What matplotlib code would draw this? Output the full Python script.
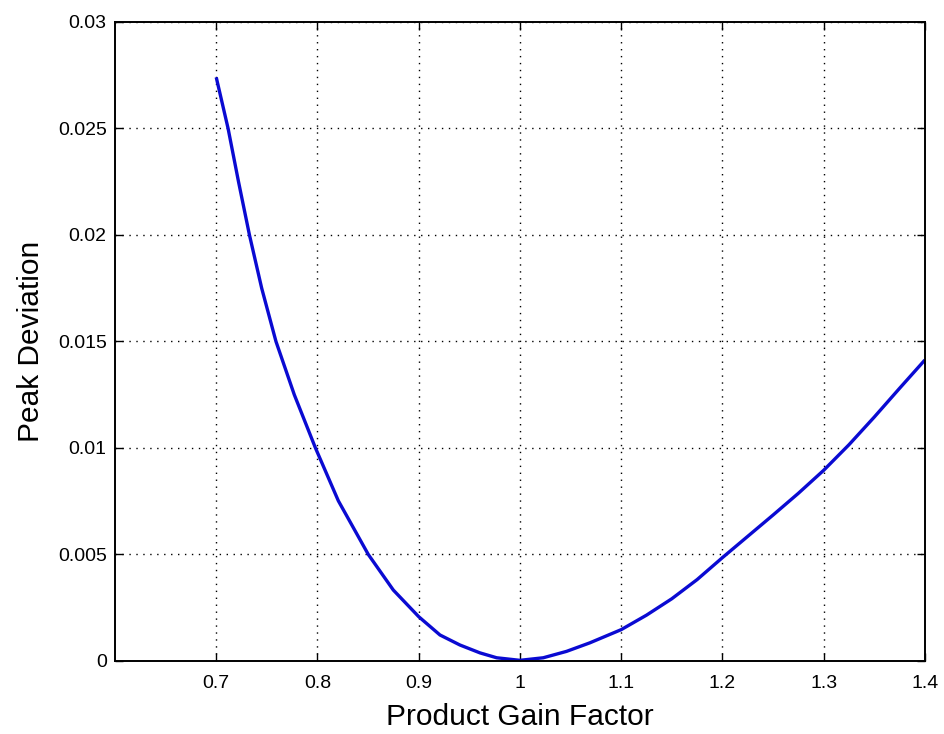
import matplotlib
matplotlib.use("Agg")
import matplotlib.pyplot as plt

# gain factor and the peak deviation read at each gain
gain = [0.700, 0.7117, 0.7220, 0.7328, 0.7449, 0.7590, 0.7771, 0.7980,
        0.8206, 0.8502, 0.8749, 0.9000, 0.9210, 0.9407, 0.9605, 0.9770,
        1.0000, 1.0230, 1.0460, 1.0690, 1.1000, 1.1250, 1.1500, 1.1750,
        1.2000, 1.2250, 1.2500, 1.2750, 1.3000, 1.3250, 1.3500, 1.3750,
        1.4000]
deviation = [0.02740, 0.02500, 0.02250, 0.02000, 0.01750, 0.01500, 0.01250,
             0.01000, 0.00752, 0.00500, 0.00333, 0.00208, 0.00122, 0.00075,
             0.00038, 0.00015, 0.00003, 0.00015, 0.00045, 0.00085, 0.00147,
             0.00215, 0.00292, 0.00382, 0.00485, 0.00585, 0.00685, 0.00787,
             0.00895, 0.01015, 0.01145, 0.01280, 0.01413]

xticks = [0.7, 0.8, 0.9, 1.0, 1.1, 1.2, 1.3, 1.4]
xlabels = ["0.7", "0.8", "0.9", "1", "1.1", "1.2", "1.3", "1.4"]
yticks = [0, 0.005, 0.01, 0.015, 0.02, 0.025, 0.03]
ylabels = ["0", "0.005", "0.01", "0.015", "0.02", "0.025", "0.03"]

plt.rcParams["font.family"] = ["Liberation Sans", "DejaVu Sans"]

fig = plt.figure(figsize=(9.45, 7.34), dpi=100)
ax = fig.add_axes([0.1217, 0.0995, 0.857, 0.8706])

ax.plot(gain, deviation, color="#0a0ad2", linewidth=2.4,
        solid_joinstyle="round", solid_capstyle="butt")

ax.set_xlim(0.6, 1.4)
ax.set_ylim(0, 0.03)
ax.set_xticks(xticks)
ax.set_xticklabels(xlabels)
ax.set_yticks(yticks)
ax.set_yticklabels(ylabels)

ax.grid(True, linestyle=(0, (1, 4)), color="black", linewidth=1.0)
ax.tick_params(direction="in", length=6, width=1.0, labelsize=14,
               top=True, right=True)
ax.tick_params(axis="x", pad=10)
ax.tick_params(axis="y", pad=6)
for s in ax.spines.values():
    s.set_linewidth(1.4)

ax.set_xlabel("Product Gain Factor", fontsize=21.5, labelpad=8)
ax.set_ylabel("Peak Deviation", fontsize=21.5, labelpad=9)

fig.savefig("out.png", dpi=100)
